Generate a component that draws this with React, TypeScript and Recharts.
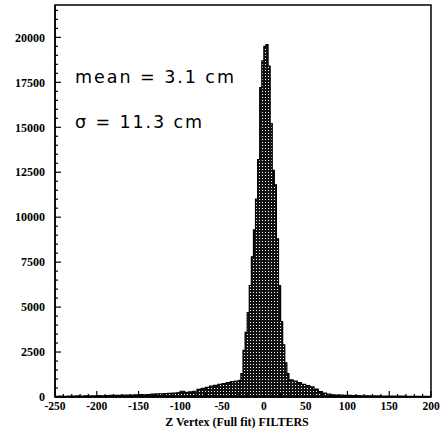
import React from 'react';
import { AreaChart, Area, XAxis, YAxis, ReferenceArea } from 'recharts';

// histogram bin left edges (cm) and counts, last edge closes the range
const binEdges = [
  -250, -245, -240, -235, -230, -225, -220, -215, -210, -205,
  -200, -195, -190, -185, -180, -175, -170, -165, -160, -155,
  -150, -145, -140, -135, -130, -125, -120, -115, -110, -105,
  -100, -95, -90, -85, -80, -75, -70, -65, -60, -55,
  -50, -45, -40, -35, -30, -27.5, -25, -22.5, -20, -17.5,
  -15, -12.5, -10, -7.5, -5, -2.5, 0, 2.5, 5, 7.5,
  10, 12.5, 15, 17.5, 20, 22.5, 25, 27.5, 30, 35,
  40, 45, 50, 55, 60, 65, 70, 75, 80, 85,
  90, 95, 100, 105, 110, 115, 120, 125, 130, 135,
  140, 145, 150, 155, 160, 165, 170, 175, 180, 185,
  190, 195, 200,
];
const binCounts = [
  30, 45, 40, 55, 50, 60, 55, 65, 60, 70,
  75, 70, 80, 85, 90, 95, 100, 110, 105, 120,
  130, 125, 140, 160, 170, 180, 190, 200, 210, 230,
  320, 260, 280, 320, 420, 480, 540, 600, 650, 700,
  740, 800, 850, 880, 920, 1300, 2600, 3600, 4700, 6200,
  7800, 9300, 11000, 13200, 17200, 18700, 19500, 19600, 18400, 15200,
  12600, 11800, 8800, 6200, 4200, 2900, 1900, 1300, 950, 880,
  800, 700, 640, 560, 440, 300, 220, 160, 120, 110,
  100, 90, 85, 80, 75, 70, 70, 65, 60, 60,
  55, 55, 50, 50, 45, 45, 40, 40, 35, 35,
  30, 30, 30,
];

const xTicks = [-250, -200, -150, -100, -50, 0, 50, 100, 150, 200];
const xMinorTicks = [
  -250, -240, -230, -220, -210, -200, -190, -180, -170, -160,
  -150, -140, -130, -120, -110, -100, -90, -80, -70, -60,
  -50, -40, -30, -20, -10, 0, 10, 20, 30, 40,
  50, 60, 70, 80, 90, 100, 110, 120, 130, 140,
  150, 160, 170, 180, 190, 200,
];
const yTicks = [0, 2500, 5000, 7500, 10000, 12500, 15000, 17500, 20000];
const yMinorTicks = [
  0, 500, 1000, 1500, 2000, 2500, 3000, 3500, 4000, 4500,
  5000, 5500, 6000, 6500, 7000, 7500, 8000, 8500, 9000, 9500,
  10000, 10500, 11000, 11500, 12000, 12500, 13000, 13500, 14000, 14500,
  15000, 15500, 16000, 16500, 17000, 17500, 18000, 18500, 19000, 19500,
  20000, 20500, 21000, 21500,
];

const xDomain = [-250, 200];
const yDomain = [0, 21800];

const data = binEdges.map((x, i) => ({ x, count: binCounts[i] }));

const FONT = 'Liberation Serif';
const X_MARGIN = 5;
const Y_MARGIN = 10;

// inward tick marks drawn together with the labels of the major ticks
const XTick = (props: any) => {
  const { x, y, payload } = props;
  const major = xTicks.includes(payload.value);
  const axisY = y - X_MARGIN;
  return (
    <g>
      <line x1={x} x2={x} y1={axisY} y2={axisY - (major ? 6 : 3)} stroke="#000" strokeWidth={1.2} />
      {major && (
        <text x={x} y={y} dy="0.71em" textAnchor="middle" fontFamily={FONT} fontWeight="bold" fontSize={11.5} fill="#000">
          {payload.value}
        </text>
      )}
    </g>
  );
};

const YTick = (props: any) => {
  const { x, y, payload } = props;
  const major = yTicks.includes(payload.value);
  const axisX = x + Y_MARGIN;
  return (
    <g>
      <line x1={axisX} x2={axisX + (major ? 6 : 3)} y1={y} y2={y} stroke="#000" strokeWidth={1.2} />
      {major && (
        <text x={x} y={y} dy="0.355em" textAnchor="end" fontFamily={FONT} fontWeight="bold" fontSize={12} fill="#000">
          {payload.value}
        </text>
      )}
    </g>
  );
};

export default function App() {
  return (
    <div style={{ position: 'absolute', left: 0, top: 0, width: 440, height: 435, background: '#fff' }}>
      <AreaChart width={440} height={435} data={data} margin={{ top: 5, right: 9, bottom: 0, left: 0 }}>
        <defs>
          <pattern id="dither" width="3" height="3" patternUnits="userSpaceOnUse">
            <rect width="3" height="3" fill="#111" />
            <rect x="1" y="1" width="1" height="1" fill="#fff" />
          </pattern>
        </defs>
        <XAxis
          type="number"
          dataKey="x"
          domain={xDomain}
          ticks={xMinorTicks}
          interval={0}
          allowDataOverflow
          height={38}
          tickLine={false}
          tickSize={0}
          tickMargin={X_MARGIN}
          tick={<XTick />}
          axisLine={{ stroke: '#000', strokeWidth: 1.5 }}
          label={{
            value: 'Z Vertex (Full fit) FILTERS',
            position: 'insideBottom',
            offset: 9,
            dx: -6,
            style: { fontFamily: FONT, fontWeight: 'bold', fontSize: 12, fill: '#000' },
          }}
        />
        <YAxis
          type="number"
          domain={yDomain}
          ticks={yMinorTicks}
          interval={0}
          allowDataOverflow
          width={55}
          tickLine={false}
          tickSize={0}
          tickMargin={Y_MARGIN}
          tick={<YTick />}
          axisLine={{ stroke: '#000', strokeWidth: 1.5 }}
        />
        <ReferenceArea x1={-250} x2={200} y1={0} y2={21800} fill="none" stroke="#000" strokeWidth={1.5} />
        <Area
          type="stepAfter"
          dataKey="count"
          stroke="#000"
          strokeWidth={1.2}
          fill="url(#dither)"
          fillOpacity={1}
          isAnimationActive={false}
        />
      </AreaChart>
      <svg width={440} height={435} style={{ position: 'absolute', left: 0, top: 0, pointerEvents: 'none' }}>
        <text x={75} y={83} fontFamily="DejaVu Sans" fontSize={17.5} textLength={159} lengthAdjust="spacing" fill="#000">mean = 3.1 cm</text>
        <text x={75} y={128} fontFamily="DejaVu Sans" fontSize={17.5} textLength={127} lengthAdjust="spacing" fill="#000">σ = 11.3 cm</text>
      </svg>
    </div>
  );
}
